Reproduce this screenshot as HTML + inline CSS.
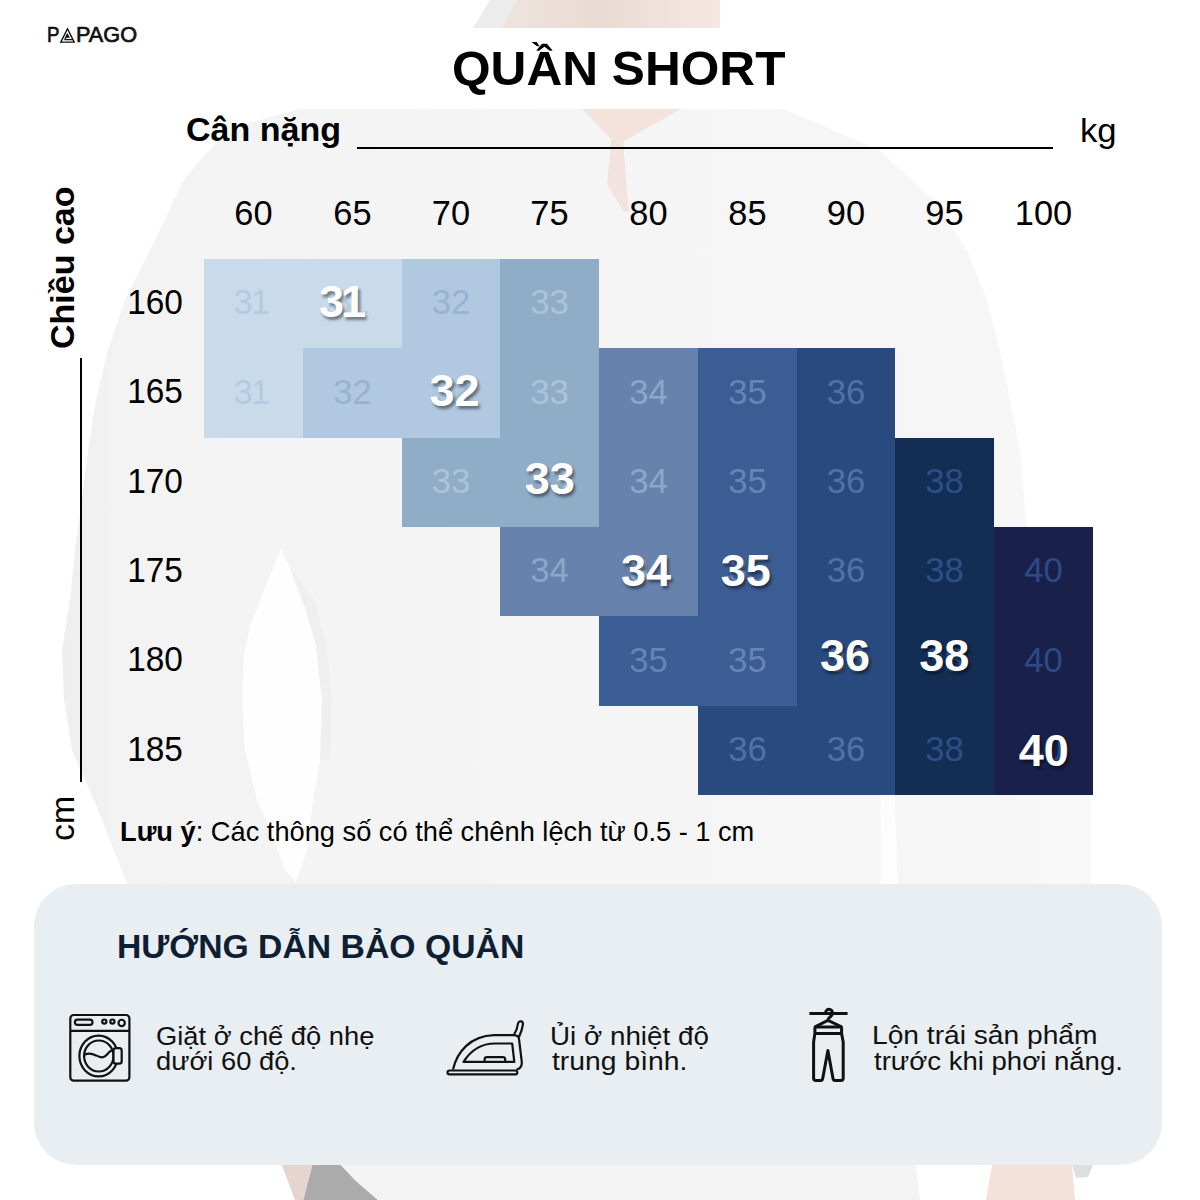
<!DOCTYPE html>
<html lang="vi"><head><meta charset="utf-8"><title>Quần short - bảng size</title>
<style>
*{margin:0;padding:0;box-sizing:border-box}
html,body{width:1200px;height:1200px;overflow:hidden;background:#fff}
body{position:relative;font-family:"Liberation Sans",sans-serif;color:#000}
.a{position:absolute;white-space:nowrap;line-height:1}
#bg{position:absolute;left:0;top:0;width:1200px;height:1200px}
.c{position:absolute}
.it{font-size:26.2px;color:#111}
.bo{text-align:center;font-weight:bold;color:#fff;text-shadow:2px 3px 3px rgba(0,0,0,.45)}
</style></head><body>
<svg id="bg" viewBox="0 0 1200 1200">
  <defs>
    <linearGradient id="sh" x1="0" y1="0" x2="1" y2="0">
      <stop offset="0" stop-color="#eeeeee"/><stop offset="0.06" stop-color="#f3f3f3"/><stop offset="0.5" stop-color="#f5f5f5"/><stop offset="0.9" stop-color="#f6f6f6"/><stop offset="1" stop-color="#f9f9f9"/>
    </linearGradient>
    <linearGradient id="sk" x1="0" y1="0" x2="1" y2="0">
      <stop offset="0" stop-color="#eee3de"/><stop offset="0.45" stop-color="#e9dbd4"/><stop offset="1" stop-color="#f5e8e3"/>
    </linearGradient>
  </defs>
  <path d="M300 109 L783 109 L879 150 L933 200 L967 250 L987 300 L1000 350 L1020 450 L1027 530 L1060 600 L1085 700 L1091 800 L1091 884 L127 884 L114 850 L94 800 L72 750 L64 700 L62 650 L70 600 L75 550 L82 500 L88 450 L96 400 L108 350 L125 300 L145 260 L160 230 L174 200 L184 180 L200 160 L220 140 L247 123 Z" fill="url(#sh)"/>
  <path d="M281 549 L290 568 L305 608 L316 645 L322 700 L320 760 L313 800 L307 850 L296 882 L285 870 L270 830 L257 800 L245 750 L242 700 L244 654 L250 627 L264 590 Z" fill="#fefefe"/>
  <path d="M290 568 L305 608 L316 645 L322 700 L320 760 L330 760 L332 700 L326 645 L314 600 Z" fill="#ededed" opacity="0.7"/>
  <path d="M879 655 L889 655 L898 884 L881 884 Z" fill="#fdfdfd"/>
  <path d="M582 109 L681 109 L617 145 Z" fill="#f4e3dd"/>
  <path d="M611 140 L623 140 L626 180 L629 212 L624 212 L607 184 Z" fill="#f3e3de"/>
  <path d="M473 28 L490 0 L517 0 L501 28 Z" fill="#ececec"/>
  <path d="M501 28 L517 0 L720 0 L720 28 Z" fill="url(#sk)"/>
  <rect x="0" y="28" width="1200" height="81" fill="#ffffff"/>
  <path d="M281.7 1165 L312.5 1165 L303.3 1200 L295 1200 Z" fill="#e5d5ce"/>
  <path d="M312.5 1165 L340.8 1165 L356 1181 L378 1200 L303.3 1200 Z" fill="#ababab"/>
  <path d="M340.8 1165 L916 1165 L920 1200 L378 1200 L356 1181 Z" fill="#f3f3f3"/>
  <path d="M992 1165 L1072 1165 L1075 1200 L986 1200 Z" fill="#f4e1da"/>
  <path d="M1072 1165 L1093 1165 L1088 1177 L1076 1178 Z" fill="#dedede"/>
</svg>

<div class="a" id="logo1" style="left:47.2px;top:24.5px;font-size:21.5px;transform:scaleX(0.8700);transform-origin:0 0;-webkit-text-stroke:0.7px #111;color:#111">P</div>
<svg class="a" style="left:58px;top:26px" width="20" height="20" viewBox="58 26 20 20"><polygon points="67.5,28.8 60.8,42.1 74.2,42.1" fill="none" stroke="#111" stroke-width="1.4" stroke-linejoin="miter"/><path d="M64.6 39.7 L72.6 39.7 M64.6 39.7 L67.6 33.6" fill="none" stroke="#111" stroke-width="1.3"/><polygon points="67.6,33.4 65.6,37.8 70,37.8" fill="#111"/></svg>
<div class="a" id="logo2" style="left:75.6px;top:24.5px;font-size:21.5px;transform:scaleX(1.0100);transform-origin:0 0;-webkit-text-stroke:0.7px #111;color:#111">PAGO</div>

<div class="a" id="title" style="left:452.02px;top:43.78px;font-size:48.7px;transform:scaleX(1.0188);transform-origin:0 0;font-weight:bold">QUẦN SHORT</div>

<div class="a" id="cannang" style="left:185.99px;top:114.02px;font-size:32.7px;transform:scaleX(1.0408);transform-origin:0 0;font-weight:bold">Cân nặng</div>
<div class="a" style="left:357px;top:146.5px;width:696px;height:2.5px;background:#000"></div>
<div class="a" id="kg" style="left:1080.28px;top:113.87px;font-size:33px;transform:scaleX(1.0521);transform-origin:0 0">kg</div>

<div class="a" style="left:204px;width:99px;top:195.88px;font-size:34.4px;text-align:center">60</div>
<div class="a" style="left:303px;width:99px;top:195.88px;font-size:34.4px;text-align:center">65</div>
<div class="a" style="left:402px;width:98px;top:195.88px;font-size:34.4px;text-align:center">70</div>
<div class="a" style="left:500px;width:99px;top:195.88px;font-size:34.4px;text-align:center">75</div>
<div class="a" style="left:599px;width:99px;top:195.88px;font-size:34.4px;text-align:center">80</div>
<div class="a" style="left:698px;width:99px;top:195.88px;font-size:34.4px;text-align:center">85</div>
<div class="a" style="left:797px;width:98px;top:195.88px;font-size:34.4px;text-align:center">90</div>
<div class="a" style="left:895px;width:99px;top:195.88px;font-size:34.4px;text-align:center">95</div>
<div class="a" style="left:994px;width:99px;top:195.88px;font-size:34.4px;text-align:center">100</div>
<div class="a" style="left:105.3px;width:100px;top:284.63px;font-size:34.7px;text-align:center;transform:scaleX(0.963)">160</div>
<div class="a" style="left:105.3px;width:100px;top:374.13px;font-size:34.7px;text-align:center;transform:scaleX(0.963)">165</div>
<div class="a" style="left:105.3px;width:100px;top:463.63px;font-size:34.7px;text-align:center;transform:scaleX(0.963)">170</div>
<div class="a" style="left:105.3px;width:100px;top:552.63px;font-size:34.7px;text-align:center;transform:scaleX(0.963)">175</div>
<div class="a" style="left:105.3px;width:100px;top:642.13px;font-size:34.7px;text-align:center;transform:scaleX(0.963)">180</div>
<div class="a" style="left:105.3px;width:100px;top:731.63px;font-size:34.7px;text-align:center;transform:scaleX(0.963)">185</div>

<div class="a" id="chieucao" style="left:45.2px;top:349px;font-size:34px;font-weight:bold;transform:rotate(-90deg);transform-origin:0 0">Chiều cao</div>
<div class="a" style="left:79.6px;top:358px;width:2.2px;height:424px;background:#000"></div>
<div class="a" id="cm" style="left:45.3px;top:841px;font-size:34px;transform:rotate(-90deg);transform-origin:0 0">cm</div>

<div class="c" style="left:204px;top:259px;width:99px;height:89px;background:#c9dbea"></div>
<div class="c" style="left:303px;top:259px;width:99px;height:89px;background:#c9dbea"></div>
<div class="c" style="left:402px;top:259px;width:98px;height:89px;background:#b0c8e0"></div>
<div class="c" style="left:500px;top:259px;width:99px;height:89px;background:#90adc8"></div>
<div class="c" style="left:204px;top:348px;width:99px;height:90px;background:#c9dbea"></div>
<div class="c" style="left:303px;top:348px;width:99px;height:90px;background:#b0c8e0"></div>
<div class="c" style="left:402px;top:348px;width:98px;height:90px;background:#b0c8e0"></div>
<div class="c" style="left:500px;top:348px;width:99px;height:90px;background:#90adc8"></div>
<div class="c" style="left:599px;top:348px;width:99px;height:90px;background:#6682ad"></div>
<div class="c" style="left:698px;top:348px;width:99px;height:90px;background:#3b5d94"></div>
<div class="c" style="left:797px;top:348px;width:98px;height:90px;background:#294a7e"></div>
<div class="c" style="left:402px;top:438px;width:98px;height:89px;background:#90adc8"></div>
<div class="c" style="left:500px;top:438px;width:99px;height:89px;background:#90adc8"></div>
<div class="c" style="left:599px;top:438px;width:99px;height:89px;background:#6682ad"></div>
<div class="c" style="left:698px;top:438px;width:99px;height:89px;background:#3b5d94"></div>
<div class="c" style="left:797px;top:438px;width:98px;height:89px;background:#294a7e"></div>
<div class="c" style="left:895px;top:438px;width:99px;height:89px;background:#132d54"></div>
<div class="c" style="left:500px;top:527px;width:99px;height:89px;background:#6682ad"></div>
<div class="c" style="left:599px;top:527px;width:99px;height:89px;background:#6682ad"></div>
<div class="c" style="left:698px;top:527px;width:99px;height:89px;background:#3b5d94"></div>
<div class="c" style="left:797px;top:527px;width:98px;height:89px;background:#294a7e"></div>
<div class="c" style="left:895px;top:527px;width:99px;height:89px;background:#132d54"></div>
<div class="c" style="left:994px;top:527px;width:99px;height:89px;background:#19214a"></div>
<div class="c" style="left:599px;top:616px;width:99px;height:90px;background:#3b5d94"></div>
<div class="c" style="left:698px;top:616px;width:99px;height:90px;background:#3b5d94"></div>
<div class="c" style="left:797px;top:616px;width:98px;height:90px;background:#294a7e"></div>
<div class="c" style="left:895px;top:616px;width:99px;height:90px;background:#132d54"></div>
<div class="c" style="left:994px;top:616px;width:99px;height:90px;background:#19214a"></div>
<div class="c" style="left:698px;top:706px;width:99px;height:89px;background:#294a7e"></div>
<div class="c" style="left:797px;top:706px;width:98px;height:89px;background:#294a7e"></div>
<div class="c" style="left:895px;top:706px;width:99px;height:89px;background:#132d54"></div>
<div class="c" style="left:994px;top:706px;width:99px;height:89px;background:#19214a"></div>
<div class="a" style="left:204px;width:99px;top:285.13px;font-size:34.7px;text-align:center;color:#b3cbe2;letter-spacing:-2px;text-indent:-5.4px">31</div>
<div class="a" style="left:303px;width:99px;top:285.13px;font-size:34.7px;text-align:center;color:#b3cbe2;letter-spacing:-2px;text-indent:-5.4px">31</div>
<div class="a bo" style="left:291.5px;width:99px;top:278.81px;font-size:45.0px;letter-spacing:-3px">31</div>
<div class="a" style="left:402px;width:98px;top:285.13px;font-size:34.7px;text-align:center;color:#98b3cf">32</div>
<div class="a" style="left:500px;width:99px;top:285.13px;font-size:34.7px;text-align:center;color:#aec3d9">33</div>
<div class="a" style="left:204px;width:99px;top:374.63px;font-size:34.7px;text-align:center;color:#b3cbe2;letter-spacing:-2px;text-indent:-5.4px">31</div>
<div class="a" style="left:303px;width:99px;top:374.63px;font-size:34.7px;text-align:center;color:#98b3cf">32</div>
<div class="a" style="left:402px;width:98px;top:374.63px;font-size:34.7px;text-align:center;color:#98b3cf">32</div>
<div class="a bo" style="left:405.5px;width:98px;top:367.56px;font-size:45.0px">32</div>
<div class="a" style="left:500px;width:99px;top:374.63px;font-size:34.7px;text-align:center;color:#aec3d9">33</div>
<div class="a" style="left:599px;width:99px;top:374.63px;font-size:34.7px;text-align:center;color:#8ea6c8">34</div>
<div class="a" style="left:698px;width:99px;top:374.63px;font-size:34.7px;text-align:center;color:#6784b3">35</div>
<div class="a" style="left:797px;width:98px;top:374.63px;font-size:34.7px;text-align:center;color:#5271a3">36</div>
<div class="a" style="left:402px;width:98px;top:464.13px;font-size:34.7px;text-align:center;color:#aec3d9">33</div>
<div class="a" style="left:500px;width:99px;top:464.13px;font-size:34.7px;text-align:center;color:#aec3d9">33</div>
<div class="a bo" style="left:500.25px;width:99px;top:455.81px;font-size:45.0px">33</div>
<div class="a" style="left:599px;width:99px;top:464.13px;font-size:34.7px;text-align:center;color:#8ea6c8">34</div>
<div class="a" style="left:698px;width:99px;top:464.13px;font-size:34.7px;text-align:center;color:#6784b3">35</div>
<div class="a" style="left:797px;width:98px;top:464.13px;font-size:34.7px;text-align:center;color:#5271a3">36</div>
<div class="a" style="left:895px;width:99px;top:464.13px;font-size:34.7px;text-align:center;color:#2c4f86">38</div>
<div class="a" style="left:500px;width:99px;top:553.13px;font-size:34.7px;text-align:center;color:#8ea6c8">34</div>
<div class="a" style="left:599px;width:99px;top:553.13px;font-size:34.7px;text-align:center;color:#8ea6c8">34</div>
<div class="a bo" style="left:596.5px;width:99px;top:547.56px;font-size:45.0px">34</div>
<div class="a" style="left:698px;width:99px;top:553.13px;font-size:34.7px;text-align:center;color:#6784b3">35</div>
<div class="a bo" style="left:696.25px;width:99px;top:547.56px;font-size:45.0px">35</div>
<div class="a" style="left:797px;width:98px;top:553.13px;font-size:34.7px;text-align:center;color:#5271a3">36</div>
<div class="a" style="left:895px;width:99px;top:553.13px;font-size:34.7px;text-align:center;color:#2c4f86">38</div>
<div class="a" style="left:994px;width:99px;top:553.13px;font-size:34.7px;text-align:center;color:#2d4a85">40</div>
<div class="a" style="left:599px;width:99px;top:642.63px;font-size:34.7px;text-align:center;color:#6784b3">35</div>
<div class="a" style="left:698px;width:99px;top:642.63px;font-size:34.7px;text-align:center;color:#6784b3">35</div>
<div class="a" style="left:797px;width:98px;top:642.63px;font-size:34.7px;text-align:center;color:#5271a3">36</div>
<div class="a bo" style="left:796px;width:98px;top:632.81px;font-size:45.0px">36</div>
<div class="a" style="left:895px;width:99px;top:642.63px;font-size:34.7px;text-align:center;color:#2c4f86">38</div>
<div class="a bo" style="left:894.75px;width:99px;top:632.81px;font-size:45.0px">38</div>
<div class="a" style="left:994px;width:99px;top:642.63px;font-size:34.7px;text-align:center;color:#2d4a85">40</div>
<div class="a" style="left:698px;width:99px;top:732.13px;font-size:34.7px;text-align:center;color:#5271a3">36</div>
<div class="a" style="left:797px;width:98px;top:732.13px;font-size:34.7px;text-align:center;color:#5271a3">36</div>
<div class="a" style="left:895px;width:99px;top:732.13px;font-size:34.7px;text-align:center;color:#2c4f86">38</div>
<div class="a" style="left:994px;width:99px;top:732.13px;font-size:34.7px;text-align:center;color:#2d4a85">40</div>
<div class="a bo" style="left:994.25px;width:99px;top:727.56px;font-size:45.0px">40</div>

<div class="a" id="note" style="left:120.01px;top:817.98px;font-size:27.2px;transform:scaleX(1.0016);transform-origin:0 0"><b>Lưu ý</b>: Các thông số có thể chênh lệch từ 0.5 - 1 cm</div>

<div class="a" style="left:34px;top:884px;width:1127.5px;height:281px;background:#e9eef3;border-radius:42px"></div>
<div class="a" id="care" style="left:117.49px;top:930.2px;font-size:33.9px;transform:scaleX(0.9955);transform-origin:0 0;font-weight:bold;color:#0f1f33">HƯỚNG DẪN BẢO QUẢN</div>

<svg class="a" style="left:60px;top:1005px" width="80" height="85" viewBox="60 1005 80 85" fill="none" stroke="#111" stroke-width="2.2">
<rect x="70.3" y="1015" width="59.1" height="65.7" rx="3.5"/>
<path d="M70.3 1030.8 L129.4 1030.8"/>
<rect x="74.9" y="1019.6" width="17.6" height="5.2" rx="2.6"/>
<circle cx="104.3" cy="1021.6" r="2.1"/><circle cx="112.4" cy="1021.6" r="2.1"/><circle cx="121.65" cy="1022.9" r="3.15"/>
<ellipse cx="98.6" cy="1056" rx="19.2" ry="20.4"/>
<ellipse cx="98.8" cy="1056" rx="14.7" ry="15.5"/>
<path d="M84.8 1054.6 C 88 1053.2, 92 1053.4, 96 1055.4 C 100 1057.6, 103.5 1058.3, 106 1055.6 C 107.8 1053.4, 109.5 1051, 112.8 1049.8"/>
<rect x="113.5" y="1048.2" width="8.2" height="15.5" rx="2.5" fill="#e9eef3"/>
</svg>
<svg class="a" style="left:440px;top:1015px" width="90" height="65" viewBox="440 1015 90 65" fill="none" stroke="#111" stroke-width="2.2" stroke-linejoin="round">
<rect x="447.5" y="1070.5" width="69.8" height="3.8" rx="1.9"/>
<path d="M453 1069.5 C 457 1052, 470 1036, 494 1035.2 L 514 1035.2 Q 518.5 1035.5 519 1039 L 521.8 1062 Q 522 1068.5 516.5 1069.5"/>
<path d="M513.8 1035 C 516.5 1031, 517.6 1027, 518 1023.5 Q 518.8 1021 521 1021.3 Q 523.5 1021.8 522.8 1025 C 522.3 1029, 520.8 1033, 519 1037"/>
<path d="M463.5 1061.9 C 471 1050, 482 1043.5, 495 1043.5 L 512.2 1043.5 L 514.3 1061.9 Z"/>
<path d="M484.6 1061.9 L484.6 1059.5 Q 484.6 1057.2 487 1057.2 L 502.8 1057.2 Q 505.2 1057.2 505.2 1059.5 L 505.2 1061.9"/>
</svg>
<svg class="a" style="left:800px;top:1000px" width="60" height="90" viewBox="800 1000 60 90" fill="none" stroke="#111" stroke-width="3" stroke-linejoin="round">
<path d="M809.4 1013.5 L847.6 1013.5"/>
<path d="M825.6 1012.6 A 3.4 3.4 0 1 1 832.4 1012.8 Q 832.2 1015.8 829.6 1017.4 Q 827.8 1018.8 828 1020.5"/>
<path d="M814.6 1027 L828 1020.3 L842 1027"/>
<rect x="814.9" y="1027" width="26.7" height="6.6" rx="1"/>
<path d="M814.9 1033.6 L813.6 1042 L813.6 1078 Q813.6 1080.5 816 1080.5 L820.5 1080.5 Q822.3 1080.5 822.7 1078.5 L827.9 1050.5 L833 1078.5 Q833.4 1080.5 835.2 1080.5 L840.8 1080.5 Q843.2 1080.5 843.2 1078 L843.2 1042 L841.6 1033.6"/>
</svg>
<div class="a it" id="g1" style="left:155.96px;top:1022.82px;font-size:26.2px;transform:scaleX(1.0435);transform-origin:0 0">Giặt ở chế độ nhẹ</div>
<div class="a it" id="g2" style="left:155.96px;top:1047.82px;font-size:26.2px;transform:scaleX(1.0424);transform-origin:0 0">dưới 60 độ.</div>
<div class="a it" id="u1" style="left:549.68px;top:1022.82px;font-size:26.2px;transform:scaleX(1.0617);transform-origin:0 0">Ủi ở nhiệt độ</div>
<div class="a it" id="u2" style="left:551.8px;top:1048.32px;font-size:26.2px;transform:scaleX(1.0813);transform-origin:0 0">trung bình.</div>
<div class="a it" id="l1" style="left:871.86px;top:1022.12px;font-size:26.2px;transform:scaleX(1.0757);transform-origin:0 0">Lộn trái sản phẩm</div>
<div class="a it" id="l2" style="left:874px;top:1047.52px;font-size:26.2px;transform:scaleX(1.0513);transform-origin:0 0">trước khi phơi nắng.</div>

</body></html>
